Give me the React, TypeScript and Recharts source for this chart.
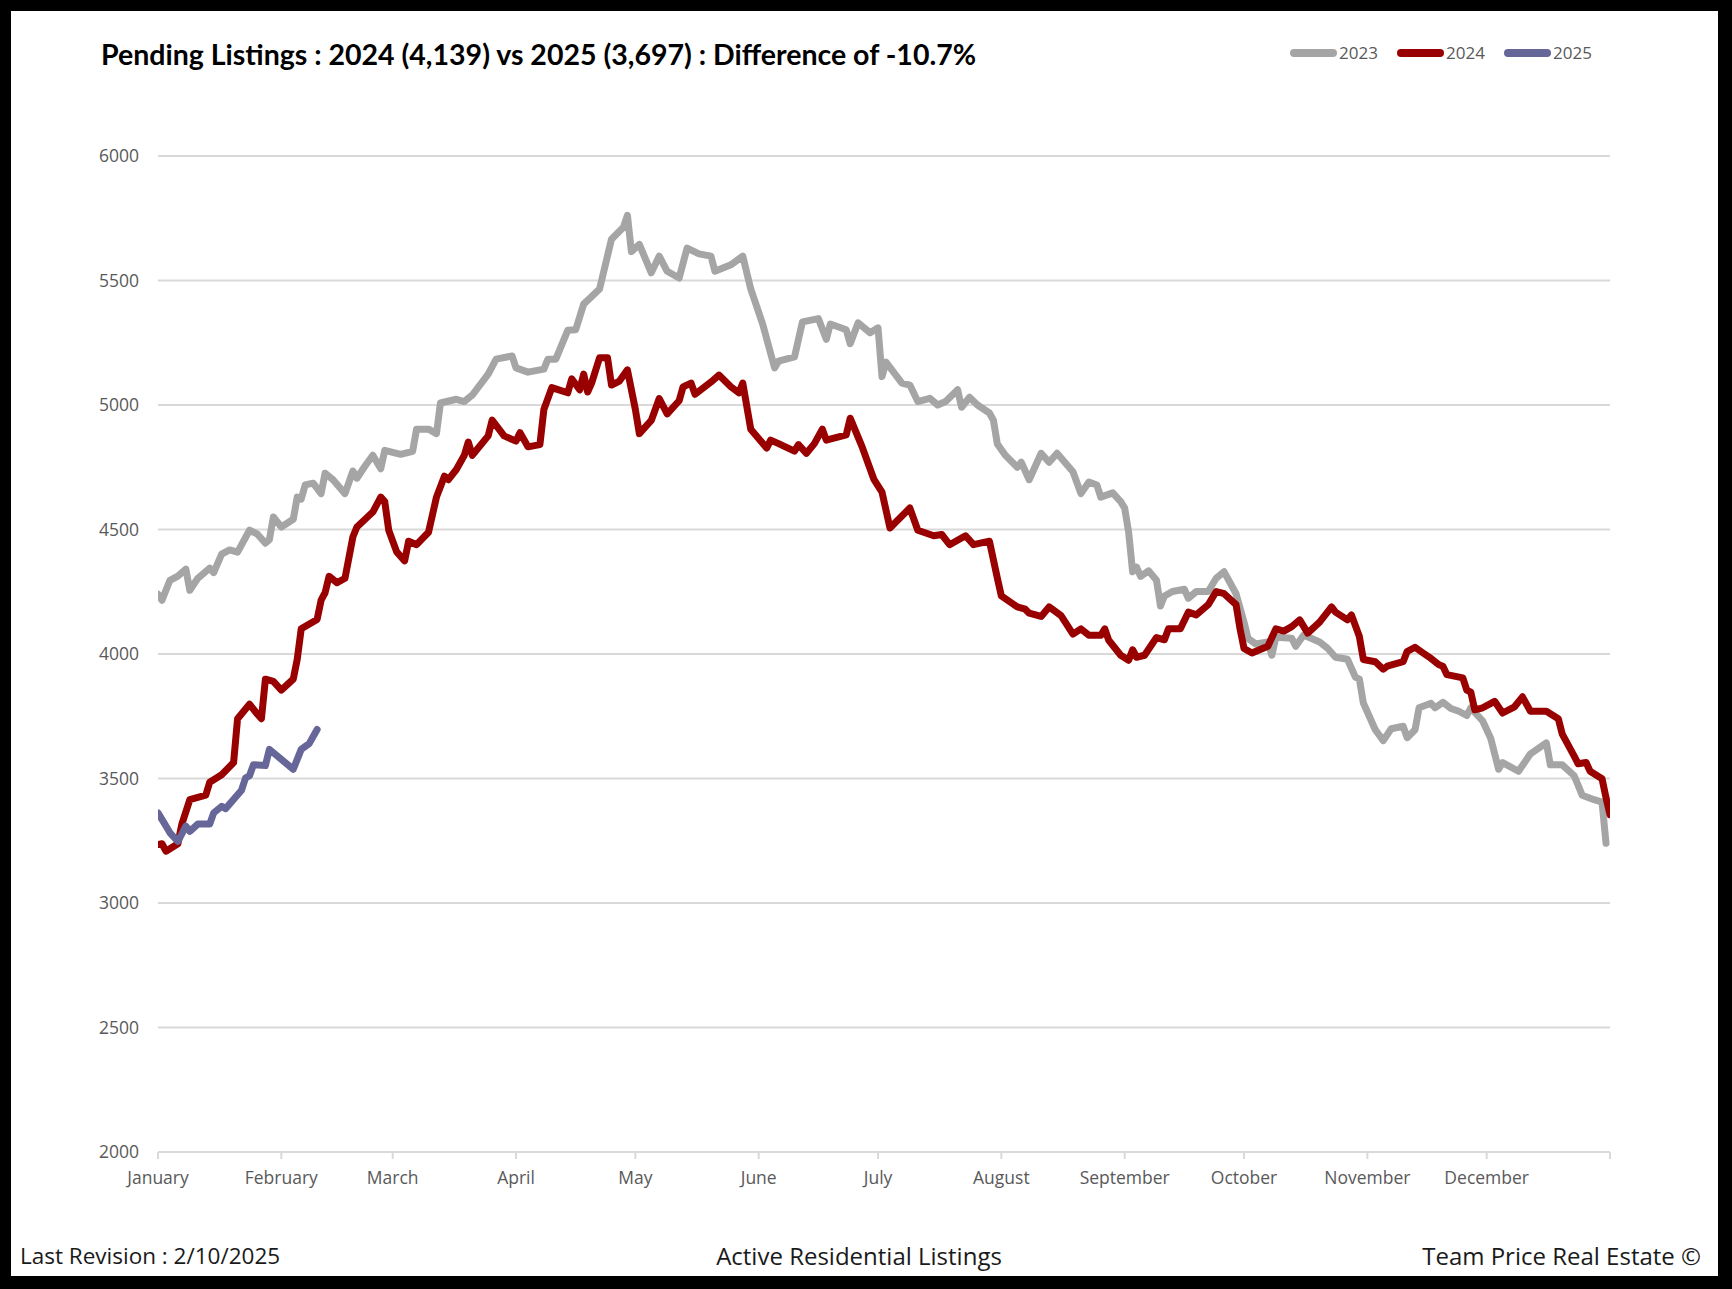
import React from 'react';
import { LineChart, Line, XAxis, YAxis, CartesianGrid } from 'recharts';

// day of year (0 = Jan 1) and pending listings for each year
const days2023 = [
  0, 1, 3, 5, 7, 8, 10, 13, 14, 16, 18, 20, 23, 25, 27, 28, 29, 31, 34, 35, 36, 37, 39, 41, 42, 44, 47, 49,
  50, 52, 54, 56, 57, 61, 64, 65, 68, 70, 71, 75, 77, 79, 83, 85, 89, 90, 93, 97, 98, 100, 103, 105, 107,
  111, 114, 117, 118, 119, 121, 124, 126, 128, 131, 133, 136, 139, 140, 144, 147, 149, 152, 155, 156, 160,
  162, 166, 168, 169, 173, 174, 176, 179, 181, 182, 183, 187, 189, 191, 194, 196, 198, 201, 202, 204, 206,
  209, 210, 211, 213, 216, 217, 219, 222, 224, 226, 230, 232, 234, 236, 237, 240, 242, 243, 244, 245, 246,
  247, 249, 251, 252, 253, 255, 258, 259, 261, 264, 266, 268, 271, 273, 274, 276, 279, 280, 281, 285, 286,
  288, 292, 294, 296, 299, 301, 302, 303, 306, 308, 310, 313, 314, 316, 317, 320, 321, 323, 325, 327, 329,
  330, 333, 335, 337, 338, 342, 345, 349, 350, 353, 356, 358, 361, 363, 364,
];
const values2023 = [
  4240, 4216, 4296, 4313, 4341, 4256, 4304, 4345, 4327, 4401, 4418, 4409, 4497, 4481, 4445, 4459, 4550,
  4510, 4541, 4630, 4622, 4679, 4686, 4644, 4726, 4700, 4644, 4735, 4706, 4754, 4798, 4744, 4818, 4802,
  4814, 4903, 4903, 4885, 5008, 5023, 5014, 5040, 5124, 5184, 5197, 5149, 5132, 5144, 5184, 5184, 5300,
  5302, 5405, 5466, 5666, 5714, 5762, 5616, 5645, 5531, 5598, 5537, 5510, 5630, 5607, 5598, 5537, 5563,
  5598, 5466, 5325, 5149, 5176, 5193, 5334, 5347, 5264, 5325, 5302, 5246, 5330, 5290, 5310, 5114, 5172,
  5088, 5080, 5014, 5027, 5000, 5014, 5061, 4991, 5031, 5000, 4968, 4939, 4843, 4798, 4750, 4770, 4700,
  4806, 4770, 4806, 4732, 4644, 4691, 4679, 4630, 4647, 4612, 4586, 4489, 4330, 4349, 4312, 4334, 4296,
  4193, 4233, 4251, 4260, 4224, 4251, 4251, 4304, 4330, 4242, 4128, 4063, 4040, 4048, 3995, 4067, 4063,
  4031, 4076, 4048, 4023, 3987, 3979, 3907, 3899, 3803, 3696, 3652, 3700, 3710, 3664, 3696, 3784, 3802,
  3784, 3806, 3781, 3770, 3753, 3784, 3731, 3662, 3537, 3564, 3529, 3599, 3643, 3555, 3555, 3511, 3433,
  3415, 3405, 3240,
];

const days2024 = [
  0, 1, 2, 5, 6, 8, 12, 13, 16, 19, 20, 23, 25, 26, 27, 29, 31, 34, 35, 36, 40, 41, 42, 43, 45, 47, 49, 50,
  54, 56, 57, 58, 60, 62, 63, 65, 68, 70, 72, 73, 75, 77, 78, 79, 83, 84, 87, 90, 91, 93, 96, 97, 99, 103,
  104, 106, 107, 108, 109, 111, 113, 114, 116, 118, 120, 121, 124, 126, 128, 131, 132, 134, 135, 139, 141,
  144, 146, 147, 149, 153, 154, 156, 160, 161, 163, 165, 167, 168, 173, 174, 177, 180, 182, 184, 189, 191,
  195, 197, 199, 203, 205, 209, 211, 212, 216, 218, 219, 222, 224, 227, 230, 232, 234, 237, 238, 239, 242,
  244, 245, 246, 248, 251, 253, 254, 257, 259, 261, 264, 266, 268, 271, 272, 273, 275, 279, 281, 283, 285,
  287, 289, 292, 295, 296, 299, 300, 302, 303, 306, 308, 309, 313, 314, 316, 318, 320, 322, 323, 324, 328,
  329, 330, 331, 333, 336, 338, 341, 343, 345, 349, 352, 353, 356, 357, 359, 360, 363, 364, 365,
];
const values2024 = [
  3235, 3238, 3208, 3238, 3317, 3415, 3433, 3485, 3515, 3564, 3740, 3798, 3758, 3740, 3899, 3890, 3855,
  3899, 3979, 4101, 4139, 4216, 4246, 4312, 4286, 4304, 4471, 4510, 4570, 4630, 4612, 4497, 4410, 4374,
  4453, 4439, 4489, 4630, 4714, 4700, 4741, 4798, 4851, 4798, 4876, 4939, 4876, 4855, 4889, 4832, 4841,
  4982, 5070, 5049, 5105, 5061, 5124, 5052, 5088, 5190, 5190, 5080, 5096, 5141, 4982, 4885, 4938, 5026,
  4964, 5017, 5073, 5088, 5043, 5092, 5120, 5073, 5049, 5088, 4903, 4827, 4859, 4845, 4815, 4841, 4806,
  4845, 4903, 4859, 4880, 4947, 4832, 4700, 4650, 4506, 4586, 4497, 4475, 4480, 4439, 4475, 4439, 4453,
  4304, 4233, 4189, 4180, 4164, 4151, 4189, 4154, 4080, 4101, 4075, 4075, 4101, 4055, 3995, 3975, 4017,
  3987, 3995, 4066, 4057, 4101, 4101, 4168, 4157, 4198, 4251, 4242, 4198, 4101, 4022, 4004, 4031, 4101,
  4092, 4110, 4137, 4084, 4128, 4189, 4168, 4137, 4157, 4070, 3978, 3969, 3939, 3951, 3969, 4010, 4027,
  4004, 3982, 3957, 3951, 3917, 3904, 3855, 3847, 3776, 3784, 3810, 3763, 3788, 3828, 3770, 3770, 3740,
  3678, 3590, 3559, 3564, 3529, 3499, 3423, 3355,
];

const days2025 = [0, 2, 3, 5, 7, 8, 10, 13, 14, 16, 17, 21, 22, 23, 24, 27, 28, 34, 36, 38, 40];
const values2025 = [
  3362, 3309, 3282, 3247, 3309, 3288, 3317, 3317, 3362, 3388, 3379, 3453, 3502, 3511, 3555, 3552, 3617,
  3537, 3617, 3640, 3697,
];

const monthStarts = [0, 31, 59, 90, 120, 151, 181, 212, 243, 273, 304, 334, 365];
const monthLabels = [
  'January', 'February', 'March', 'April', 'May', 'June', 'July',
  'August', 'September', 'October', 'November', 'December', '',
];
const yTicks = [2000, 2500, 3000, 3500, 4000, 4500, 5000, 5500, 6000];

const series = [
  { name: '2023', color: '#a5a5a5', days: days2023, values: values2023 },
  { name: '2024', color: '#990000', days: days2024, values: values2024 },
  { name: '2025', color: '#666699', days: days2025, values: values2025 },
];

const tickFont = { fontFamily: '"Open Sans", sans-serif', fontSize: 17.5, fill: '#595959' };
const footFont = { fontFamily: '"Open Sans", sans-serif', lineHeight: '26px', color: '#1a1a1a' };

const App: React.FC = () => {
  const labelFor = (v: number) => {
    const i = monthStarts.indexOf(v);
    return i >= 0 ? monthLabels[i] : '';
  };

  return (
    <div style={{ position: 'absolute', left: 0, top: 0, width: 1732, height: 1289, background: '#000' }}>
      <div style={{ position: 'absolute', left: 11, top: 11, width: 1707, height: 1265, background: '#fff' }} />

      <div
        style={{
          position: 'absolute',
          left: 101,
          top: 40,
          fontFamily: 'Lato, sans-serif',
          fontWeight: 700,
          fontSize: 28.5,
          lineHeight: '29px',
          color: '#000',
          whiteSpace: 'nowrap',
        }}
      >
        Pending Listings : 2024 (4,139) vs 2025 (3,697) : Difference of -10.7%
      </div>

      {/* legend */}
      {series.map((s, i) => (
        <div key={s.name}>
          <div
            style={{
              position: 'absolute',
              left: 1290 + i * 107,
              top: 49,
              width: 47,
              height: 8,
              borderRadius: 4,
              background: s.color,
            }}
          />
          <div
            style={{
              position: 'absolute',
              left: 1339 + i * 107,
              top: 43,
              fontFamily: '"Open Sans", sans-serif',
              fontSize: 17,
              lineHeight: '20px',
              color: '#595959',
            }}
          >
            {s.name}
          </div>
        </div>
      ))}

      <div style={{ position: 'absolute', left: 0, top: 0 }}>
        <LineChart width={1732} height={1289} margin={{ top: 156, right: 122, bottom: 107, left: 0 }}>
          <CartesianGrid vertical={false} stroke="#d9d9d9" strokeWidth={2} />
          <XAxis
            type="number"
            dataKey="day"
            domain={[0, 365]}
            ticks={monthStarts}
            tickFormatter={labelFor}
            allowDataOverflow
            height={30}
            stroke="#d9d9d9"
            strokeWidth={2}
            tickSize={7}
            tickMargin={13}
            tick={tickFont}
            interval={0}
          />
          <YAxis
            type="number"
            domain={[2000, 6000]}
            ticks={yTicks}
            width={158}
            axisLine={false}
            tickLine={false}
            tickMargin={13}
            tick={tickFont}
            interval={0}
          />
          {series.map((s) => (
            <Line
              key={s.name}
              data={s.days.map((d, i) => ({ day: d, value: s.values[i] }))}
              dataKey="value"
              name={s.name}
              type="linear"
              stroke={s.color}
              strokeWidth={7}
              strokeLinecap="round"
              strokeLinejoin="round"
              dot={false}
              activeDot={false}
              isAnimationActive={false}
            />
          ))}
        </LineChart>
      </div>

      <div style={{ ...footFont, position: 'absolute', left: 20, top: 1243, fontSize: 22.5 }}>
        Last Revision : 2/10/2025
      </div>
      <div
        style={{ ...footFont, position: 'absolute', left: 0, width: 1718, top: 1243, textAlign: 'center', fontSize: 24 }}
      >
        Active Residential Listings
      </div>
      <div style={{ ...footFont, position: 'absolute', right: 31, top: 1243, fontSize: 24 }}>
        Team Price Real Estate ©
      </div>
    </div>
  );
};

export default App;
